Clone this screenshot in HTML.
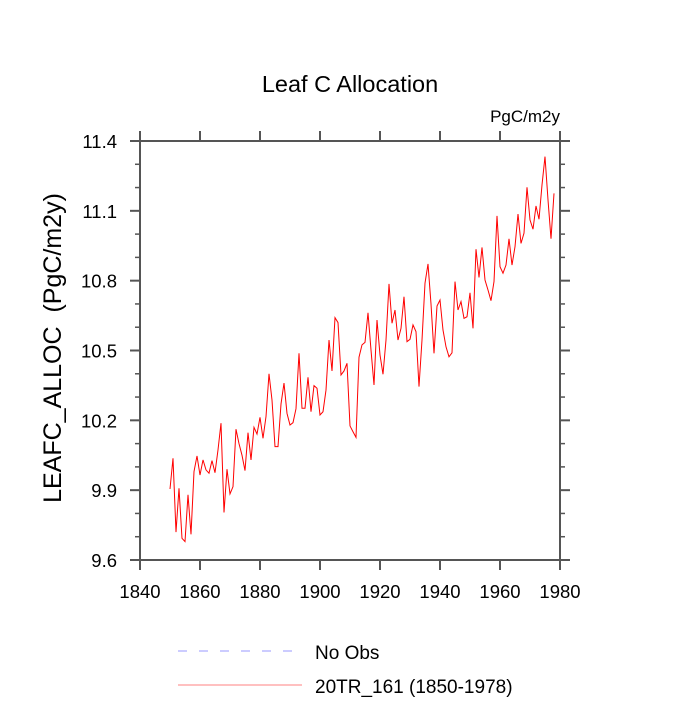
<!DOCTYPE html>
<html><head><meta charset="utf-8"><style>
body{margin:0;background:#fff}
text{font-family:"Liberation Sans",sans-serif;fill:#000}
</style></head><body>
<svg id="chart" width="700" height="700" viewBox="0 0 700 700" xmlns="http://www.w3.org/2000/svg">
<text x="350" y="92" font-size="23.5" text-anchor="middle">Leaf C Allocation</text>
<text x="560" y="122" font-size="17" text-anchor="end">PgC/m2y</text>
<text transform="translate(61,348) rotate(-90)" font-size="25" text-anchor="middle">LEAFC_ALLOC&#160;&#160;(PgC/m2y)</text>
<g id="axes"></g>
<g id="series"></g>
<g>
<line x1="178" y1="651" x2="294" y2="651" stroke="#9999ff" stroke-width="1" stroke-dasharray="9,12"/>
<text x="315" y="659" font-size="19">No Obs</text>
<line x1="178" y1="685" x2="302" y2="685" stroke="#ff8080" stroke-width="1"/>
<text x="315" y="693" font-size="19">20TR_161 (1850-1978)</text>
</g>
</svg>
<script>
const startYear = 1850;
const values = [9.905,10.037,9.72,9.908,9.693,9.679,9.88,9.71,9.98,10.047,9.965,10.03,9.987,9.973,10.027,9.975,10.073,10.188,9.804,9.99,9.884,9.915,10.162,10.10,10.05,9.984,10.147,10.03,10.17,10.141,10.213,10.123,10.216,10.40,10.287,10.087,10.087,10.27,10.36,10.23,10.18,10.19,10.25,10.488,
10.252,10.252,10.385,10.237,10.349,10.338,10.223,10.237,10.33,10.545,10.412,10.641,10.62,10.395,10.412,10.445,10.176,10.151,10.127,10.471,10.524,10.535,10.662,10.502,10.352,10.631,10.481,10.398,10.545,10.786,10.617,10.674,10.545,10.595,10.731,10.538,10.548,10.61,10.581,10.345,10.545,10.789,10.872,10.70,10.488,
10.691,10.717,10.588,10.516,10.473,10.49,10.796,10.674,10.71,10.638,10.645,10.748,10.595,10.935,10.814,10.943,10.803,10.76,10.714,10.796,11.078,10.86,10.832,10.867,10.98,10.867,10.946,11.086,10.96,11.004,11.201,11.061,11.021,11.121,11.064,11.211,11.333,11.147,10.98,11.175];
const xTicks = [1840,1860,1880,1900,1920,1940,1960,1980];
const yTicks = [9.6,9.9,10.2,10.5,10.8,11.1,11.4];
const yTickLabels = ["9.6","9.9","10.2","10.5","10.8","11.1","11.4"];
const yMinor = [9.7,9.8,10.0,10.1,10.3,10.4,10.6,10.7,10.9,11.0,11.2,11.3];
const X0=140,X1=560,Y0=560,Y1=141;
const xs=v=>X0+(v-1840)/(1980-1840)*(X1-X0);
const ys=v=>Y0-(v-9.6)/(11.4-9.6)*(Y0-Y1);
const NS="http://www.w3.org/2000/svg";
const axes=document.getElementById('axes');
function mk(tag,attrs,parent){const e=document.createElementNS(NS,tag);for(const k in attrs)e.setAttribute(k,attrs[k]);parent.appendChild(e);return e;}
let box=mk('rect',{x:X0,y:Y1,width:X1-X0,height:Y0-Y1,fill:'none',stroke:'#555','stroke-width':2},axes);


xTicks.forEach(t=>{
 const x=xs(t);
 let b=mk('line',{x1:x,y1:Y0,x2:x,y2:Y0+10,stroke:'#555','stroke-width':2},axes);
 
 
 let tp=mk('line',{x1:x,y1:Y1,x2:x,y2:Y1-10,stroke:'#555','stroke-width':2},axes);
 
 
 let lb=mk('text',{x:x,y:Y0+38,'font-size':18.5,'text-anchor':'middle'},axes);
 lb.textContent=t;
 
 
});
yTicks.forEach((t,i)=>{
 const y=ys(t);
 let l=mk('line',{x1:X0,y1:y,x2:X0-10,y2:y,stroke:'#555','stroke-width':2},axes);
 
 
 let r=mk('line',{x1:X1,y1:y,x2:X1+10,y2:y,stroke:'#555','stroke-width':2},axes);
 
 
 let lb=mk('text',{x:X0-23,y:y+7,'font-size':18.5,'text-anchor':'end'},axes);
 lb.textContent=yTickLabels[i];
 
 
});
yMinor.forEach(t=>{
 const y=ys(t);
 let l=mk('line',{x1:X0,y1:y,x2:X0-5,y2:y,stroke:'#555','stroke-width':1.5},axes);
 
 
 let r=mk('line',{x1:X1,y1:y,x2:X1+5,y2:y,stroke:'#555','stroke-width':1.5},axes);
 
 
});
const pts=values.map((v,i)=>xs(startYear+i).toFixed(2)+','+ys(v).toFixed(2)).join(' ');
let pl=mk('polyline',{points:pts,fill:'none',stroke:'#ff0000','stroke-width':1},document.getElementById('series'));


</script>
</body></html>
